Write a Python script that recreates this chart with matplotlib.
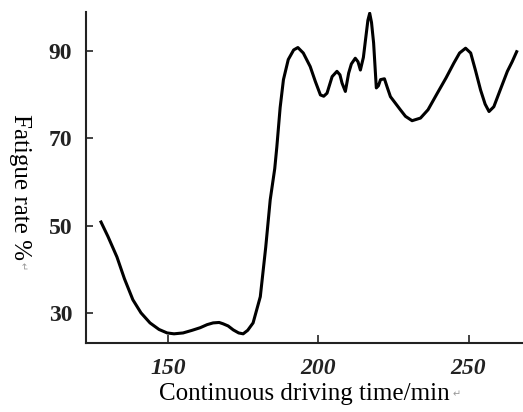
import matplotlib
matplotlib.use("Agg")
import matplotlib.pyplot as plt

# driving time (min) and fatigue rate (%)
time_min = [127.7, 130, 133, 135.5, 138.3, 141, 144, 147, 149.7, 152, 155, 158,
            160.7, 163, 165, 167, 168.3, 170, 171.7, 173.5, 175, 176.5, 178.3,
            180.7, 182.5, 184, 185.5, 186.2, 187.3, 188.4, 190, 191.8, 193.2,
            195, 197.3, 199, 200.7, 201.8, 202.9, 204.6, 206.2, 207.2, 207.9,
            209, 210.1, 211, 212.3, 213.2, 214, 215, 215.7, 216.5, 217.1, 217.7,
            218.4, 219.3, 220, 220.7, 222, 223, 224, 227.3, 229, 231.2, 234,
            236.5, 239.6, 242.5, 245.1, 247, 249, 250.7, 252.3, 254, 255.5,
            256.8, 258.4, 260.5, 262.9, 264.5, 266]
fatigue = [50.8, 47.5, 42.8, 37.8, 33, 30, 27.7, 26.2, 25.4, 25.2, 25.4, 26,
           26.6, 27.3, 27.7, 27.8, 27.5, 27, 26.1, 25.4, 25.2, 26, 27.7,
           33.7, 45, 55.9, 63, 68, 77, 83.4, 88, 90.2, 90.75,
           89.5, 86.4, 83, 79.9, 79.6, 80.3, 84.1, 85.3, 84.5, 82.6,
           80.7, 84.9, 87, 88.3, 87.5, 85.6, 88.5, 92.5, 97, 98.6, 96.5,
           91.8, 81.5, 82, 83.4, 83.6, 81.5, 79.5, 76.5, 75, 74, 74.6,
           76.5, 80.3, 83.8, 87.2, 89.5, 90.6, 89.5, 85.5, 81, 77.8,
           76.1, 77.2, 81, 85.3, 87.5, 89.8]

xticks = [150, 200, 250]
yticks = [30, 50, 70, 90]

serif = ["Liberation Serif", "DejaVu Serif"]

fig = plt.figure(figsize=(5.23, 4.12), dpi=100)
ax = fig.add_axes([0.1644, 0.1675, 0.835, 0.8035])

ax.plot(time_min, fatigue, color="black", linewidth=2.2)

ax.set_xlim(122.7, 268)
ax.set_ylim(23.1, 98.9)
ax.set_xticks(xticks)
ax.set_yticks(yticks)
ax.set_xticklabels([str(t) for t in xticks], family=serif, fontsize=17,
                   fontweight="bold", fontstyle="italic")
ax.set_yticklabels([str(t) for t in yticks], family=serif, fontsize=17,
                   fontweight="bold")
ax.tick_params(axis="x", direction="in", length=6, width=1.2, pad=11, colors="#222222")
ax.tick_params(axis="y", direction="in", length=5, width=1.2, pad=10, colors="#222222")

for s in ["top", "right"]:
    ax.spines[s].set_visible(False)
for s in ["left", "bottom"]:
    ax.spines[s].set_linewidth(1.5)
    ax.spines[s].set_color("#222222")

ax.set_xlabel("Continuous driving time/min", family=serif, fontsize=18, labelpad=3)
ax.set_ylabel("Fatigue rate %", family=serif, fontsize=18, rotation=-90,
              va="center", ha="center")
ax.yaxis.set_label_coords(-0.152, 0.47)

# little paragraph marks left over from the source document
fig.text(457 / 523, 1 - 394 / 412, "\u21b5", fontsize=7, color="#999999",
         ha="center", va="center")
fig.text(22 / 523, 1 - 266 / 412, "\u21b5", fontsize=7, color="#999999",
         ha="center", va="center", rotation=-90)

plt.savefig("out.png", dpi=100)
